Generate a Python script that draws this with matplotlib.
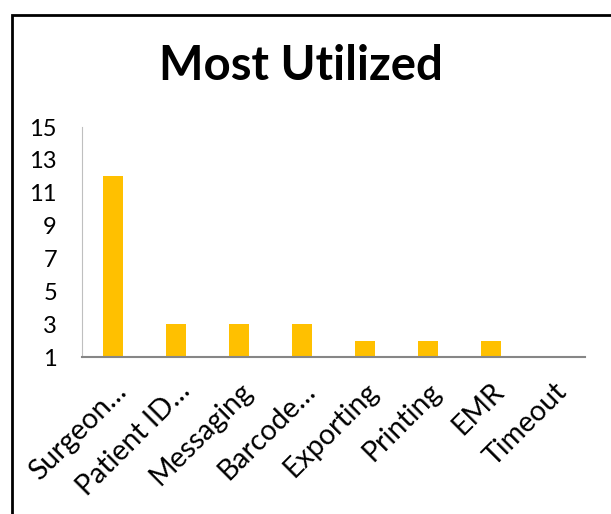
import matplotlib.pyplot as plt
from matplotlib.patches import Rectangle

categories = ['Surgeon…', 'Patient ID…', 'Messaging', 'Barcode…',
              'Exporting', 'Printing', 'EMR', 'Timeout']
counts = [12, 3, 3, 3, 2, 2, 2, 1]
y_ticks = [1, 3, 5, 7, 9, 11, 13, 15]

plt.rcParams['font.family'] = ['Lato', 'DejaVu Sans']

W, H = 611, 514
fig = plt.figure(figsize=(W / 100, H / 100), dpi=100)

# chart frame, running off the right and bottom edges
frame = Rectangle((12 / W, -0.1), 1.2, (H - 15) / H + 0.1,
                  transform=fig.transFigure, fill=False,
                  edgecolor='black', linewidth=2, clip_on=False)
fig.patches.append(frame)

ax = fig.add_axes([82 / W, 157 / H, 503 / W, 230 / H])
x = range(len(categories))
ax.bar(x, counts, width=0.32, color='#FFC000')

ax.set_xlim(-0.5, len(categories) - 0.5)
ax.set_ylim(1, 15)
ax.set_yticks(y_ticks)
ax.set_xticks(list(x))
ax.set_xticklabels(categories, rotation=45, ha='right',
                   rotation_mode='anchor', fontsize=20.5)
ax.tick_params(axis='y', labelsize=17, length=0, pad=18)
ax.tick_params(axis='x', length=0, pad=15)

for side in ('top', 'right'):
    ax.spines[side].set_visible(False)
ax.spines['left'].set_color('#BFBFBF')
ax.spines['left'].set_linewidth(0.8)
ax.spines['bottom'].set_color('#868686')
ax.spines['bottom'].set_linewidth(1.5)

fig.text(301 / W, 1 - 66 / H, 'Most Utilized', ha='center', va='center',
         fontsize=34, fontweight='bold')

fig.savefig('out.png', dpi=100)
